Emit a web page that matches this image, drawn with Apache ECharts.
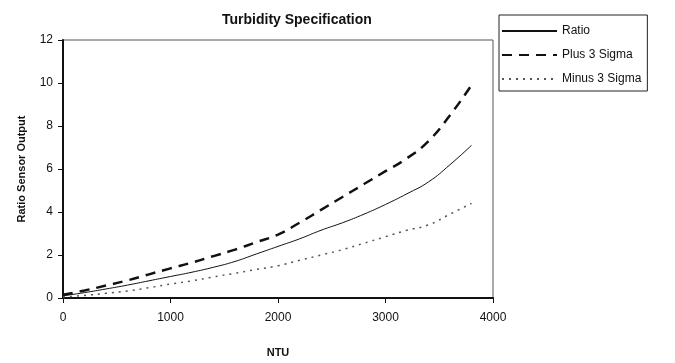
<!DOCTYPE html>
<html>
<head>
<meta charset="utf-8">
<script src="https://cdn.jsdelivr.net/npm/echarts@6/dist/echarts.min.js"></script>
<style>
  html, body { margin: 0; padding: 0; background: #fff; }
  #chart { width: 675px; height: 363px; }
</style>
</head>
<body>
<div id="chart"></div>
<script>
// NTU readings
var ntu = [0, 200, 400, 600, 800, 1000, 1200, 1400, 1600, 1800, 2000, 2200, 2400, 2600, 2800, 3000, 3200, 3400, 3600, 3800]
// ratio sensor output
var ratio = [0.1, 0.25, 0.42, 0.6, 0.8, 1.0, 1.2, 1.43, 1.7, 2.05, 2.4, 2.75, 3.15, 3.5, 3.9, 4.35, 4.85, 5.4, 6.2, 7.1]
var plus3Sigma = [0.15, 0.35, 0.58, 0.82, 1.1, 1.38, 1.65, 1.95, 2.25, 2.6, 2.95, 3.5, 4.1, 4.7, 5.3, 5.9, 6.5, 7.3, 8.5, 9.9]
var minus3Sigma = [0.05, 0.12, 0.22, 0.33, 0.48, 0.65, 0.8, 0.98, 1.15, 1.33, 1.5, 1.75, 2.0, 2.25, 2.55, 2.85, 3.15, 3.4, 3.9, 4.4]
var xTicks = [0, 1000, 2000, 3000, 4000]
var yTicks = [0, 2, 4, 6, 8, 10, 12]

function pairs(ys) {
  return ntu.map(function (x, i) { return [x, ys[i]] })
}

var font = 'Liberation Sans, Arial, sans-serif'
var chart = echarts.init(document.getElementById('chart'))

chart.setOption({
  backgroundColor: '#fff',
  animation: false,
  textStyle: { fontFamily: font },
  title: {
    text: 'Turbidity Specification',
    left: 217,
    top: 8,
    textStyle: { fontSize: 14, fontWeight: 'bold', color: '#111', fontFamily: font }
  },
  legend: {
    orient: 'vertical',
    left: 499,
    top: 15,
    itemWidth: 55,
    itemHeight: 10,
    itemGap: 12,
    padding: [10, 6, 6, 2],
    borderColor: '#222',
    borderWidth: 1,
    itemStyle: { color: 'transparent', borderWidth: 0 },
    textStyle: { fontSize: 12, color: '#111', fontFamily: font },
    data: ['Ratio', 'Plus 3 Sigma', 'Minus 3 Sigma']
  },
  grid: {
    left: 63,
    right: 182,
    top: 40,
    bottom: 62,
    show: true,
    borderColor: '#555',
    borderWidth: 1
  },
  xAxis: {
    type: 'value',
    min: xTicks[0],
    max: xTicks[xTicks.length - 1],
    interval: 1000,
    name: 'NTU',
    nameLocation: 'middle',
    nameGap: 49,
    nameTextStyle: { fontSize: 11, fontWeight: 'bold', color: '#111', fontFamily: font },
    axisLine: { show: true, lineStyle: { color: '#111', width: 2 } },
    axisTick: { show: true, length: 5, lineStyle: { color: '#111', width: 1 } },
    axisLabel: { fontSize: 12, color: '#111', margin: 14, fontFamily: font, formatter: function (v) { return String(v) } },
    splitLine: { show: false }
  },
  yAxis: {
    type: 'value',
    min: yTicks[0],
    max: yTicks[yTicks.length - 1],
    interval: 2,
    name: 'Ratio Sensor Output',
    nameLocation: 'middle',
    nameGap: 36,
    nameTextStyle: { fontSize: 11, fontWeight: 'bold', color: '#111', fontFamily: font },
    axisLine: { show: true, lineStyle: { color: '#111', width: 2 } },
    axisTick: { show: true, length: 5, lineStyle: { color: '#111', width: 1 } },
    axisLabel: { fontSize: 12, color: '#111', margin: 10, fontFamily: font },
    splitLine: { show: false }
  },
  series: [
    {
      name: 'Ratio',
      type: 'line',
      smooth: true,
      symbol: 'none',
      data: pairs(ratio),
      itemStyle: { color: '#111' },
      lineStyle: { color: '#111', width: 1 }
    },
    {
      name: 'Plus 3 Sigma',
      type: 'line',
      smooth: true,
      symbol: 'none',
      data: pairs(plus3Sigma),
      itemStyle: { color: '#111' },
      lineStyle: { color: '#111', width: 2.5, type: [10, 7] }
    },
    {
      name: 'Minus 3 Sigma',
      type: 'line',
      smooth: true,
      symbol: 'none',
      data: pairs(minus3Sigma),
      itemStyle: { color: '#555' },
      lineStyle: { color: '#555', width: 1.5, type: [2, 5] }
    }
  ]
})
</script>
</body>
</html>
